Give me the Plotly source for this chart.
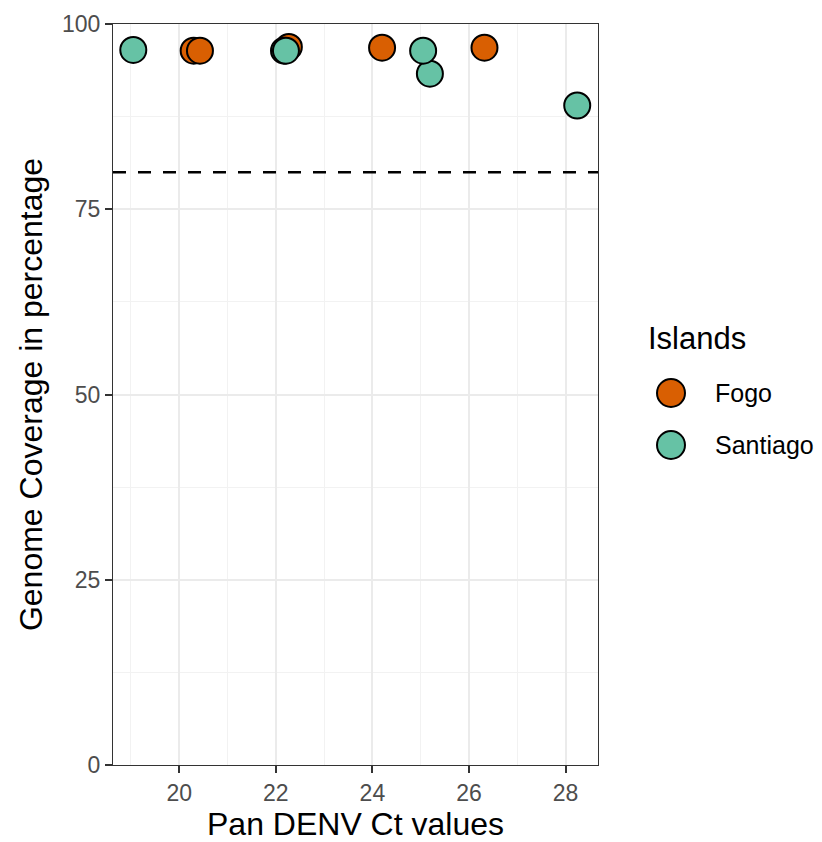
import plotly.graph_objects as go

# Data
fogo_ct = [20.30, 20.43, 22.27, 24.20, 26.32]
fogo_cov = [96.4, 96.4, 96.9, 96.8, 96.8]
santiago_ct = [19.05, 22.17, 22.21, 25.19, 25.05, 28.24]
santiago_cov = [96.5, 96.4, 96.4, 93.3, 96.4, 89.0]
islands = ["Fogo", "Santiago"]
colors = ["#D95F02", "#66C2A5"]
threshold = 80

W, H = 822, 842
L, R, T, B = 113, 598, 24, 765   # target panel edges in window pixels
FONT = "Liberation Sans"

fig = go.Figure()
for name, xs, ys, c in [("Fogo", fogo_ct, fogo_cov, colors[0]),
                        ("Santiago", santiago_ct, santiago_cov, colors[1])]:
    fig.add_trace(go.Scatter(
        x=xs, y=ys, mode="markers", name=name, showlegend=False,
        marker=dict(size=26, color=c, line=dict(color="black", width=2)),
        cliponaxis=False,
    ))

fig.add_hline(y=threshold, line=dict(color="black", width=2.5, dash="13px,12px"))

# manual legend (paper coords)
pw, ph = R - L, B - T
def px(x):
    return (x - L) / pw
def py(y):
    return (B - y) / ph

annotations = [dict(x=px(646), y=py(338), xref="paper", yref="paper",
                    text="Islands", showarrow=False, xanchor="left", yanchor="middle",
                    font=dict(size=31, color="black", family=FONT))]
shapes = []
r = 14
for i, (name, c) in enumerate(zip(islands, colors)):
    cy = 393 + i * 52
    shapes.append(dict(type="circle", xref="paper", yref="paper",
                       x0=px(671 - r), x1=px(671 + r), y0=py(cy + r), y1=py(cy - r),
                       fillcolor=c, line=dict(color="black", width=2)))
    annotations.append(dict(x=px(713), y=py(cy), xref="paper", yref="paper",
                            text=name, showarrow=False, xanchor="left", yanchor="middle",
                            font=dict(size=25, color="black", family=FONT)))
for s in shapes:
    fig.add_shape(**s)
for a in annotations:
    fig.add_annotation(**a)

axis_common = dict(
    showline=True, linecolor="#333333", linewidth=1.2, mirror=True,
    ticks="outside", ticklen=7, tickcolor="#333333", tickwidth=1.5,
    tickfont=dict(size=23, color="#4D4D4D", family=FONT),
    showgrid=True, gridcolor="#EBEBEB", gridwidth=1.8, zeroline=False,
)

fig.update_xaxes(**axis_common, range=[18.63, 28.67], tick0=20, dtick=2,
                 minor=dict(dtick=1, tick0=19, showgrid=True, gridcolor="#F2F2F2", gridwidth=0.9, ticks=""),
                 title=dict(text="Pan DENV Ct values", font=dict(size=32, color="black", family=FONT), standoff=3))
fig.update_yaxes(**axis_common, range=[0, 100], tick0=0, dtick=25,
                 minor=dict(dtick=12.5, tick0=0, showgrid=True, gridcolor="#F2F2F2", gridwidth=0.9, ticks=""),
                 title=dict(text="Genome Coverage in percentage", font=dict(size=32, color="black", family=FONT), standoff=9))

fig.update_layout(
    width=W, height=H, autosize=False,
    margin=dict(l=L, r=W - R, t=T, b=H - B, autoexpand=False),
    paper_bgcolor="white", plot_bgcolor="white",
    font=dict(family=FONT),
)

fig.write_html("out.html",
               config={"displayModeBar": False},
               post_script="document.body.style.margin='0';document.body.style.overflow='hidden';")
